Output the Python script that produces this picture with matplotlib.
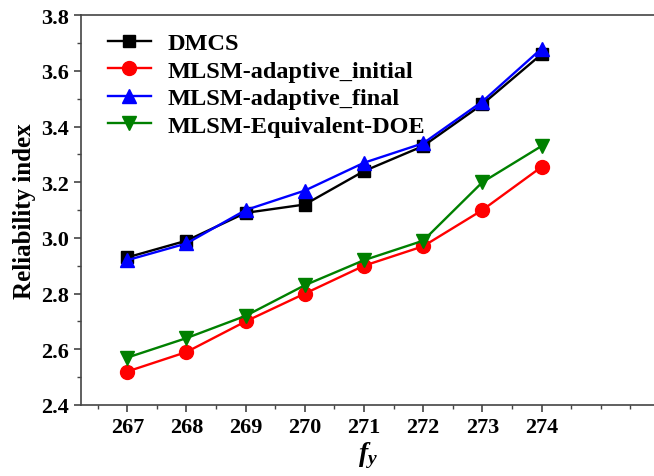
import matplotlib.pyplot as plt
from matplotlib.ticker import MultipleLocator

plt.rcParams['font.family'] = ['Liberation Serif', 'DejaVu Serif']
plt.rcParams['font.weight'] = 'bold'
plt.rcParams['mathtext.fontset'] = 'custom'
plt.rcParams['mathtext.it'] = 'Liberation Serif:italic:bold'
plt.rcParams['mathtext.rm'] = 'Liberation Serif:bold'

# data
fy = [267, 268, 269, 270, 271, 272, 273, 274]
dmcs = [2.93, 2.99, 3.09, 3.12, 3.24, 3.33, 3.48, 3.66]
adaptive_initial = [2.52, 2.59, 2.70, 2.80, 2.90, 2.97, 3.10, 3.255]
adaptive_final = [2.92, 2.98, 3.10, 3.17, 3.27, 3.34, 3.49, 3.68]
equivalent_doe = [2.57, 2.64, 2.72, 2.83, 2.92, 2.99, 3.20, 3.33]

fig = plt.figure(figsize=(6.54, 4.77), dpi=100)
ax = fig.add_axes([0.124, 0.149, 0.876, 0.817])

ax.plot(fy, dmcs, '-s', color='black', lw=1.7, ms=9, label='DMCS')
ax.plot(fy, adaptive_initial, '-o', color='red', lw=1.7, ms=10, label='MLSM-adaptive_initial')
ax.plot(fy, adaptive_final, '-^', color='blue', lw=1.7, ms=10, label='MLSM-adaptive_final')
ax.plot(fy, equivalent_doe, '-v', color='green', lw=1.7, ms=10, label='MLSM-Equivalent-DOE')

ax.set_xlim(266.22, 275.9)
ax.set_ylim(2.4, 3.8)
ax.set_xticks(fy)
ax.xaxis.set_minor_locator(MultipleLocator(0.5))
ax.yaxis.set_major_locator(MultipleLocator(0.2))
ax.yaxis.set_minor_locator(MultipleLocator(0.1))
ax.yaxis.set_major_formatter(plt.FormatStrFormatter('%.1f'))

ax.spines['right'].set_visible(False)
for s in ['left', 'bottom', 'top']:
    ax.spines[s].set_color('#444444')
    ax.spines[s].set_linewidth(1.2)
ax.tick_params(which='major', direction='out', length=5, width=1.2, color='#444444',
               labelsize=16, top=False, right=False)
ax.tick_params(which='minor', direction='out', length=3, width=1.0, color='#444444',
               top=False, right=False)

ax.set_ylabel('Reliability index', fontsize=18, fontweight='bold', labelpad=4)
ax.set_xlabel('$f_y$', fontsize=20, labelpad=2)

ax.legend(loc='upper left', bbox_to_anchor=(0.008, 1.012), frameon=False, fontsize=17.5,
          handlelength=1.8, handletextpad=0.68, labelspacing=0.22, borderaxespad=0.5)

plt.savefig('out.png', dpi=100)
plt.close()
